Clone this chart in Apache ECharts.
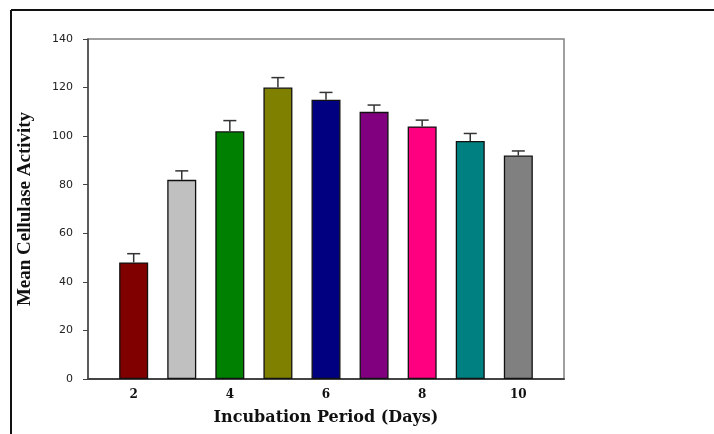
<!DOCTYPE html>
<html>
<head>
<meta charset="utf-8">
<script src="https://cdn.jsdelivr.net/npm/echarts@6/dist/echarts.min.js"></script>
<style>html,body{margin:0;padding:0;background:#fff;}#c{width:714px;height:434px;}</style>
</head>
<body>
<div id="c"></div>
<script>
const days = [2, 3, 4, 5, 6, 7, 8, 9, 10];
const means = [48, 82, 102, 120, 115, 110, 104, 98, 92];
const errors = [3.6, 3.7, 4.4, 4.1, 3.0, 2.8, 2.6, 3.1, 1.9];
const barColors = ['#800000', '#C0C0C0', '#008000', '#808000', '#000080', '#800080', '#FF0080', '#008080', '#808080'];
const xLabels = [2, 4, 6, 8, 10];
const yTicks = [0, 20, 40, 60, 80, 100, 120, 140];

const chart = echarts.init(document.getElementById('c'));
chart.setOption({
  animation: false,
  backgroundColor: '#fff',
  graphic: [
    { type: 'line', shape: { x1: 11, y1: 10, x2: 714, y2: 10 }, style: { stroke: '#111', lineWidth: 2 } },
    { type: 'line', shape: { x1: 11, y1: 10, x2: 11, y2: 434 }, style: { stroke: '#111', lineWidth: 2 } }
  ],
  grid: { left: 88, top: 39, right: 150, bottom: 55, show: true, borderColor: '#808080', borderWidth: 1.5 },
  xAxis: {
    type: 'value',
    min: 1.05,
    max: 10.95,
    name: 'Incubation Period (Days)',
    nameLocation: 'middle',
    nameGap: 31,
    nameTextStyle: { fontFamily: 'DejaVu Serif', fontWeight: 'bold', fontSize: 16, color: '#111' },
    axisLine: { show: true, lineStyle: { color: '#444', width: 2 } },
    axisTick: { show: false },
    splitLine: { show: false },
    axisLabel: {
      customValues: xLabels,
      margin: 10,
      fontFamily: 'DejaVu Serif', fontWeight: 'bold', fontSize: 12, color: '#111'
    }
  },
  yAxis: {
    type: 'value',
    min: 0,
    max: 140,
    interval: 20,
    name: 'Mean Cellulase Activity',
    nameLocation: 'middle',
    nameGap: 53,
    nameRotate: 90,
    nameTextStyle: { fontFamily: 'Liberation Serif', fontWeight: 'bold', fontSize: 19, color: '#111' },
    axisLine: { show: true, lineStyle: { color: '#444', width: 1.5 } },
    axisTick: { show: true, length: 5, inside: false, lineStyle: { color: '#444' } },
    splitLine: { show: false },
    axisLabel: {
      customValues: yTicks,
      margin: 15,
      fontFamily: 'DejaVu Sans', fontSize: 11, color: '#222'
    }
  },
  series: [
    {
      type: 'bar',
      barWidth: 29,
      data: days.map((d, i) => ({ value: [d, means[i]], itemStyle: { color: barColors[i] } })),
      itemStyle: { borderColor: '#111', borderWidth: 1.3 },
      z: 2
    },
    {
      type: 'custom',
      z: 3,
      data: days.map((d, i) => [d, means[i], errors[i]]),
      renderItem: function (params, api) {
        const x = api.value(0), y = api.value(1), e = api.value(2);
        const base = api.coord([x, y]);
        const top = api.coord([x, y + e]);
        const half = 6.5;
        const st = { stroke: '#333', lineWidth: 1.5 };
        return {
          type: 'group',
          children: [
            { type: 'line', shape: { x1: base[0], y1: base[1], x2: top[0], y2: top[1] }, style: st },
            { type: 'line', shape: { x1: top[0] - half, y1: top[1], x2: top[0] + half, y2: top[1] }, style: st }
          ]
        };
      }
    }
  ]
});
</script>
</body>
</html>
